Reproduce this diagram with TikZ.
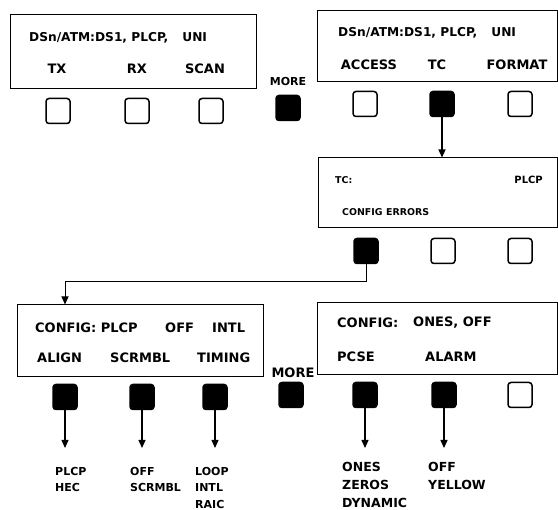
\documentclass[tikz,border=0pt]{standalone}
\usepackage{fontspec}
\setmainfont{DejaVu Sans}
\usetikzlibrary{arrows.meta, calc}

\begin{document}
\begin{tikzpicture}[x=1pt, y=-1pt,
  panel/.style={draw, line width=1pt, inner sep=0pt},
  big/.style={font=\fontsize{13}{15}\selectfont\bfseries, inner sep=0pt},
  head/.style={font=\fontsize{12.2}{14}\selectfont\bfseries, inner sep=0pt, anchor=west},
  small/.style={font=\fontsize{9.4}{11}\selectfont\bfseries, inner sep=0pt},
  opt/.style={font=\fontsize{11}{16.5}\selectfont\bfseries, inner sep=0pt, align=left, anchor=north west},
  key/.style={draw, line width=1.5pt, rounded corners=3pt, minimum width=24pt, minimum height=25pt, inner sep=0pt},
  keyon/.style={key, fill=black},
  arr/.style={line width=1.2pt, -{Triangle[length=8pt, width=7pt]}}
]
\useasboundingbox (0,0) rectangle (558,510);

% top row of screens
\node[panel, minimum width=246pt, minimum height=74pt] (p1) at (133,52) {};
\node[head] (t1) at (29,38) {DSn/ATM:DS1, PLCP,\hspace{14pt}UNI};
\node[big] (tx) at (57,69) {TX};
\node[big] (rx) at (137,69) {RX};
\node[big] (scan) at (205,69) {SCAN};
\node[big, font=\fontsize{11}{13}\selectfont\bfseries] (more1) at (288,82) {MORE};

\node[panel, minimum width=240pt, minimum height=71pt] (p2) at (437,46.5) {};
\node[head] (t2) at (338,33) {DSn/ATM:DS1, PLCP,\hspace{14pt}UNI};
\node[big] (access) at (369,65) {ACCESS};
\node[big] (tc) at (437,65) {TC};
\node[big] (format) at (517,65) {FORMAT};

\node[key] (k1) at (58,111) {};
\node[key] (k2) at (137,111) {};
\node[key] (k3) at (211,111) {};
\node[keyon] (km1) at (288,108) {};
\node[key] (k4) at (365,104) {};
\node[keyon] (k5) at (442,104) {};
\node[key] (k6) at (520,104) {};

% TC screen
\node[panel, minimum width=239pt, minimum height=70pt] (p3) at (437.5,193) {};
\node[small, anchor=west] (tct) at (335,180) {TC:};
\node[small, anchor=east, font=\fontsize{10}{12}\selectfont\bfseries] (tcp) at (543,180) {PLCP};
\node[small, anchor=west] (cfg) at (342,212) {CONFIG};
\node[small, anchor=west] (err) at (386,212) {ERRORS};

\node[keyon] (c1) at (366,251) {};
\node[key] (c2) at (443,251) {};
\node[key] (c3) at (520,251) {};

\draw[arr] (k5.south) -- (k5.south |- p3.north);

% CONFIG screens
\node[panel, minimum width=246pt, minimum height=72pt] (p4) at (140,341) {};
\node[big, anchor=west] (cf1) at (35,328) {CONFIG: PLCP};
\node[big, anchor=west] (cf2) at (165,328) {OFF};
\node[big, anchor=west] (cf3) at (212,328) {INTL};
\node[big, anchor=west] (align) at (37,358) {ALIGN};
\node[big, anchor=west] (scr) at (110,358) {SCRMBL};
\node[big, anchor=west] (tim) at (197,358) {TIMING};
\node[big] (more2) at (293,373) {MORE};

\coordinate (bend) at (65,281);
\draw[arr, line width=0.9pt] (c1.south) |- (bend) -- (bend |- p4.north);

\node[panel, minimum width=240pt, minimum height=72pt] (p5) at (437,339) {};
\node[big, anchor=west] (cf4) at (337,323) {CONFIG:};
\node[big, anchor=west] (cf5) at (413,323) {ONES, OFF};
\node[big, anchor=west] (pcse) at (337,357) {PCSE};
\node[big, anchor=west] (alarm) at (425,357) {ALARM};

\node[keyon] (b1) at (65,397) {};
\node[keyon] (b2) at (142,397) {};
\node[keyon] (b3) at (215,397) {};
\node[keyon] (km2) at (291,395) {};
\node[keyon] (b4) at (365,395) {};
\node[keyon] (b5) at (444,395) {};
\node[key] (b6) at (520,395) {};

\foreach \k/\x in {b1/65, b2/142, b3/215, b4/365, b5/444} {
  \coordinate (\k e) at (\x,448);
  \draw[arr] (\k.south) -- (\k e);
}

% choices
\node[opt] (o1) at (55,467) {PLCP\\HEC};
\node[opt] (o2) at (130,467) {OFF\\SCRMBL};
\node[opt] (o3) at (195,467) {LOOP\\INTL\\RAIC};
\node[opt, font=\fontsize{12.5}{18}\selectfont\bfseries] (o4) at (342,462) {ONES\\ZEROS\\DYNAMIC};
\node[opt, font=\fontsize{12.5}{18}\selectfont\bfseries] (o5) at (428,462) {OFF\\YELLOW};
\end{tikzpicture}
\end{document}
